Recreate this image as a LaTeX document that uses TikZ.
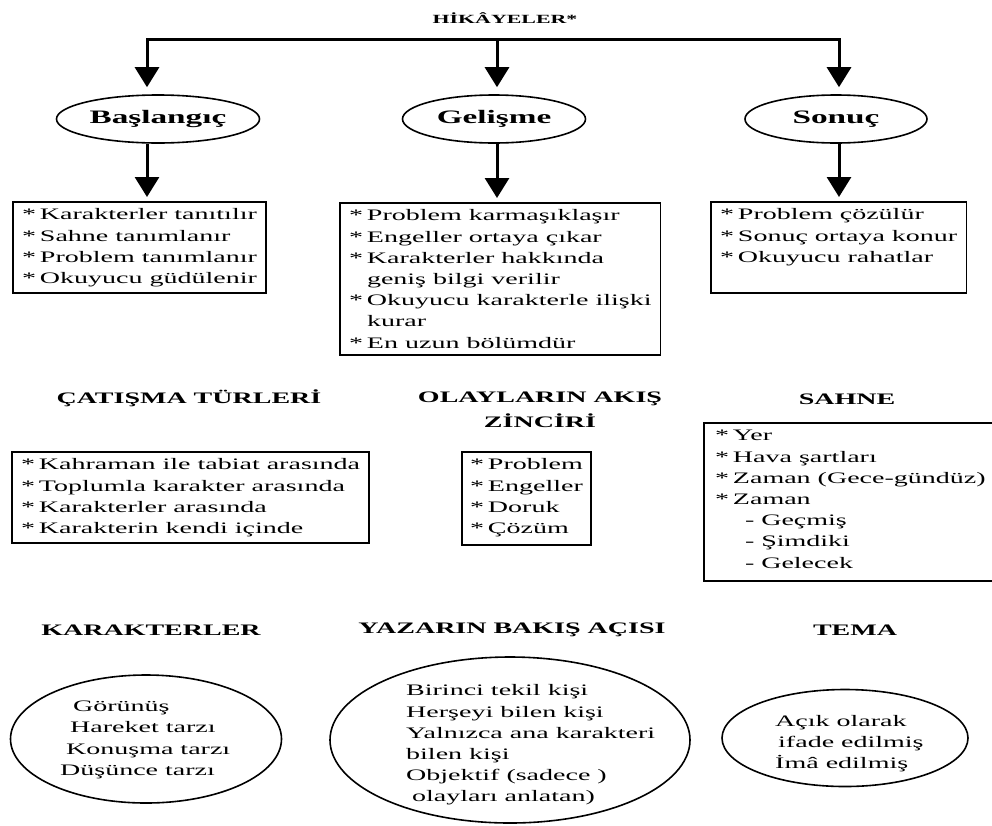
\documentclass[tikz,border=0pt]{standalone}
\usepackage{fontspec}
\setmainfont{Liberation Serif}[FakeStretch=1.75]
\usetikzlibrary{arrows.meta, positioning, shapes.geometric}
\tikzset{x = 1pt, y = -1pt,
         >= {Triangle[width = 24pt, length = 20pt]},
         every node/.style = {font = \fontsize{16}{21.2}\selectfont},
         title/.style = {font = \fontsize{12.5}{15}\selectfont\bfseries},
         heading/.style = {font = \fontsize{16}{25}\selectfont\bfseries,
                           align = center},
         part/.style = {ellipse, draw, line width = 1.6pt, inner sep = 0pt,
                        minimum height = 48pt,
                        font = \fontsize{19}{22}\selectfont\bfseries},
         listbox/.style = {draw, line width = 1.5pt, anchor = north west,
                           outer sep = 0pt, inner xsep = 9pt, inner ysep = 3pt},
         oval/.style = {ellipse, draw, line width = 1.6pt, inner sep = 0pt},
         ovaltext/.style = {anchor = west, align = left, inner sep = 0pt,
                            font = \fontsize{16}{21.5}\selectfont},
         bar/.style = {line width = 3pt, line cap = rect},
         arr/.style = {line width = 3pt, ->, shorten > = 7pt}}
\newcommand{\li}[1]{\hbox{\strut\makebox[18pt][l]{*}#1}}
\newcommand{\lc}[1]{\hbox{\strut\hspace*{18pt}#1}}
\newcommand{\lsub}[1]{\hbox{\strut\hspace*{30pt}- #1}}

\begin{document}
\begin{tikzpicture}
  \useasboundingbox (0,0) rectangle (992,825);

  % the three parts of a story
  \node[title] (hik) at (505,18) {HİKÂYELER*};
  \node[part, minimum width = 203pt] (bas) at (158,119) {Başlangıç};
  \node[part, minimum width = 183pt] (gel) at (494,119) {Gelişme};
  \node[part, minimum width = 182pt] (son) at (836,119) {Sonuç};

  \coordinate (bas-top) at (147,39);
  \coordinate (gel-top) at (497,39);
  \coordinate (son-top) at (839,39);

  \node[listbox] (bas-list) at (13,202) {\parbox[t][85pt][t]{246pt}{%
      \li{Karakterler tanıtılır}
      \li{Sahne tanımlanır}
      \li{Problem tanımlanır}
      \li{Okuyucu güdülenir}}};
  \node[listbox] (gel-list) at (340,203) {\parbox[t][146pt][t]{297pt}{%
      \li{Problem karmaşıklaşır}
      \li{Engeller ortaya çıkar}
      \li{Karakterler hakkında}
      \lc{geniş bilgi verilir}
      \li{Okuyucu karakterle ilişki}
      \lc{kurar}
      \li{En uzun bölümdür}}};
  \node[listbox] (son-list) at (711,202) {\parbox[t][85pt][t]{243pt}{%
      \li{Problem çözülür}
      \li{Sonuç ortaya konur}
      \li{Okuyucu rahatlar}}};

  \draw[bar] (bas-top) -- (son-top);
  \foreach \p in {bas, gel, son} {
    \draw[arr] (\p-top) -- (\p-top |- \p.north);
    \draw[arr, shorten > = 5pt] (\p-top |- \p.south) -- (\p-top |- \p-list.north);
  }

  % conflict, chain of events, setting
  \node[heading] (cat-head) at (189,398) {ÇATIŞMA TÜRLERİ};
  \node[heading] (ola-head) at (540,410) {OLAYLARIN AKIŞ\\ZİNCİRİ};
  \node[heading] (sah-head) at (847,399) {SAHNE};

  \node[listbox] (cat-list) at (12,452) {\parbox[t][85pt][t]{350pt}{%
      \li{Kahraman ile tabiat arasında}
      \li{Toplumla karakter arasında}
      \li{Karakterler arasında}
      \li{Karakterin kendi içinde}}};
  \node[listbox, inner xsep = 8pt] (ola-list) at (462,452) {\parbox[t][87pt][t]{132pt}{%
      \li{Problem}
      \li{Engeller}
      \li{Doruk}
      \li{Çözüm}}};
  \node[listbox, inner xsep = 11pt] (sah-list) at (704,423) {\parbox[t][152pt][t]{268pt}{%
      \li{Yer}
      \li{Hava şartları}
      \li{Zaman (Gece-gündüz)}
      \li{Zaman}
      \lsub{Geçmiş}
      \lsub{Şimdiki}
      \lsub{Gelecek}}};

  % characters, point of view, theme
  \node[heading] (kar-head) at (151,630) {KARAKTERLER};
  \node[heading] (yaz-head) at (512,630) {YAZARIN BAKIŞ AÇISI};
  \node[heading] (tem-head) at (855,630) {TEMA};

  \node[oval, minimum width = 271pt, minimum height = 128pt] (kar) at (146,739) {};
  \node[ovaltext] (kar-text) at (60,740)
    {\hspace*{13pt}Görünüş\\\hspace*{10pt}Hareket tarzı\\
     \hspace*{6pt}Konuşma tarzı\\Düşünce tarzı};
  \node[oval, minimum width = 360pt, minimum height = 166pt] (yaz) at (510,740) {};
  \node[ovaltext, font = \fontsize{16}{21.2}\selectfont] (yaz-text) at (406,745)
    {Birinci tekil kişi\\Herşeyi bilen kişi\\Yalnızca ana karakteri\\
     bilen kişi\\Objektif (sadece )\\\hspace*{6pt}olayları anlatan)};
  \node[oval, minimum width = 246pt, minimum height = 97pt] (tem) at (845,738) {};
  \node[ovaltext, font = \fontsize{16}{21}\selectfont] (tem-text) at (775,744)
    {Açık olarak\\\hspace*{3pt}ifade edilmiş\\İmâ edilmiş};
\end{tikzpicture}
\end{document}
